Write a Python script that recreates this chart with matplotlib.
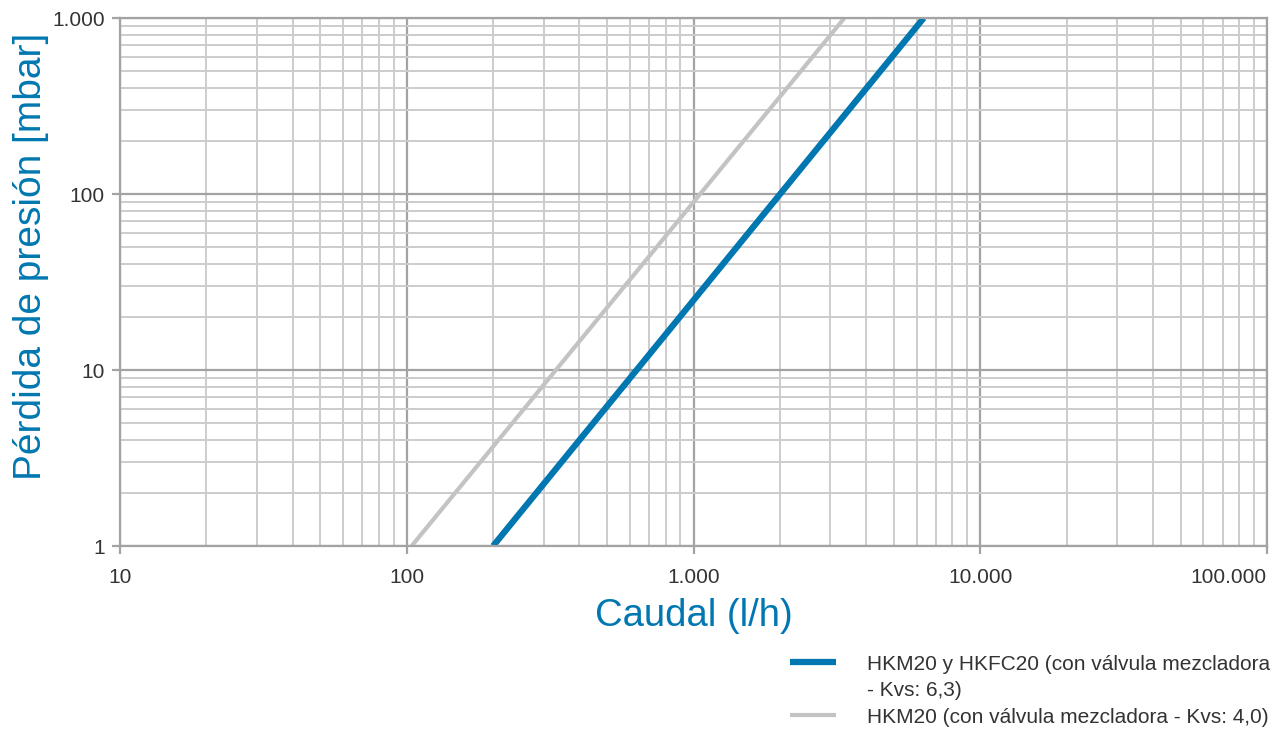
import numpy as np
import matplotlib
matplotlib.use('Agg')
from matplotlib import pyplot as plt
from matplotlib.lines import Line2D
from matplotlib.ticker import FuncFormatter, LogLocator, NullFormatter

plt.rcParams['font.family'] = ['Liberation Sans', 'DejaVu Sans']

# Data (flow in l/h, pressure loss in mbar)
blue_flow = [200, 6350]
blue_loss = [1, 1000]
gray_flow = [104, 3360]
gray_loss = [1, 1000]

blue_label = ['HKM20 y HKFC20 (con válvula mezcladora', '- Kvs: 6,3)']
gray_label = 'HKM20 (con válvula mezcladora - Kvs: 4,0)'

blue = '#0077b0'
gray = '#c3c3c3'
text_col = '#333333'

def fmt(v, pos):
    return f'{int(round(v)):,}'.replace(',', '.')

fig = plt.figure(figsize=(12.88, 7.29), dpi=100)
ax = fig.add_axes([120/1288, 1 - 546/729, (1267-120)/1288, (546-18)/729])

ax.set_xscale('log')
ax.set_yscale('log')
ax.set_xlim(10, 100000)
ax.set_ylim(1, 1000)

ax.xaxis.set_major_locator(LogLocator(base=10, numticks=10))
ax.yaxis.set_major_locator(LogLocator(base=10, numticks=10))
ax.xaxis.set_minor_locator(LogLocator(base=10, subs=np.arange(2, 10), numticks=20))
ax.yaxis.set_minor_locator(LogLocator(base=10, subs=np.arange(2, 10), numticks=20))
ax.xaxis.set_major_formatter(FuncFormatter(fmt))
ax.yaxis.set_major_formatter(FuncFormatter(fmt))
ax.xaxis.set_minor_formatter(NullFormatter())
ax.yaxis.set_minor_formatter(NullFormatter())

ax.grid(True, which='minor', color='#cccccc', linewidth=1.4)
ax.grid(True, which='major', color='#a3a3a3', linewidth=1.6)
ax.set_axisbelow(True)

for s in ax.spines.values():
    s.set_color('#a3a3a3')
    s.set_linewidth(1.6)

ax.tick_params(which='major', length=6, width=1.6, color='#a3a3a3',
               labelsize=15, labelcolor=text_col)
ax.tick_params(axis='x', which='major', pad=10)
ax.tick_params(axis='y', which='major', pad=5)
ax.tick_params(which='minor', length=0)

gray_line, = ax.plot(gray_flow, gray_loss, color=gray, linewidth=3, solid_capstyle='butt')
blue_line, = ax.plot(blue_flow, blue_loss, color=blue, linewidth=4.5, solid_capstyle='butt')

fig.canvas.draw()
for t in ax.get_xticklabels():
    if t.get_text() == '100.000':
        t.set_horizontalalignment('right')

ax.set_xlabel('Caudal (l/h)', color=blue, fontsize=27.5, labelpad=8)
ax.set_ylabel('Pérdida de presión [mbar]', color=blue, fontsize=28)
ax.yaxis.set_label_coords(-0.062, 0.549)

# legend: the first entry wraps onto a second line with no handle of its own
blank = Line2D([], [], color='none')
leg = fig.legend([blue_line, blank, gray_line], blue_label + [gray_label],
                 loc='upper left', bbox_to_anchor=(771/1288, 1 - 636/729),
                 frameon=False, fontsize=15, handlelength=2.2, handletextpad=1.5,
                 labelspacing=0.36, labelcolor=text_col)

fig.savefig('out.png', dpi=100)
